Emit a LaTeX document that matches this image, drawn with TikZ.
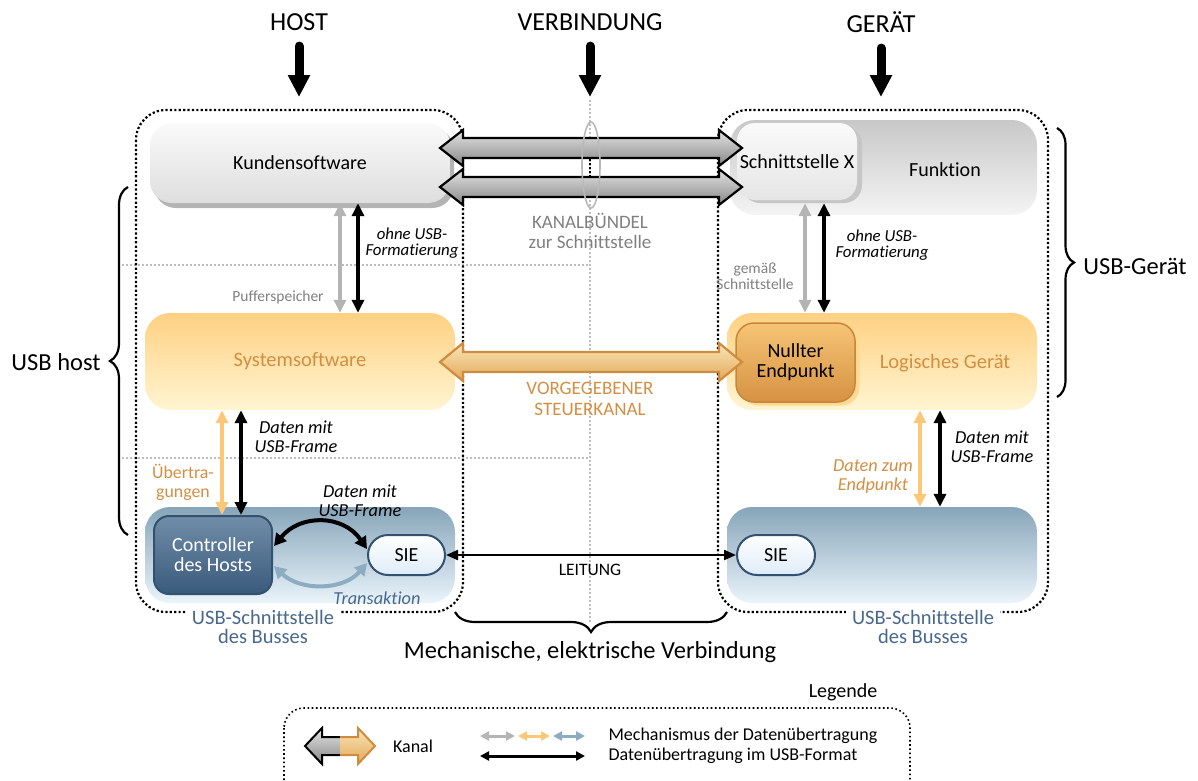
\documentclass[tikz,border=0pt]{standalone}
\usepackage{fontspec}
\setmainfont{Carlito}[Ligatures=NoCommon]
\usetikzlibrary{arrows.meta,calc,decorations.pathreplacing}

\definecolor{txtorange}{RGB}{212,142,66}
\definecolor{txtblue}{RGB}{72,104,140}
\definecolor{txtgray}{RGB}{128,128,128}
\definecolor{guidegray}{RGB}{190,190,190}
\definecolor{arrgray}{RGB}{180,180,180}
\definecolor{arrorange}{RGB}{252,200,120}
\definecolor{arrblue}{RGB}{140,172,192}
\definecolor{ksTop}{RGB}{250,250,250}
\definecolor{ksBot}{RGB}{222,222,222}
\definecolor{ksShadow}{RGB}{180,180,180}
\definecolor{fnTop}{RGB}{200,200,200}
\definecolor{fnBot}{RGB}{244,244,244}
\definecolor{sysTop}{RGB}{255,208,130}
\definecolor{sysBot}{RGB}{255,245,210}
\definecolor{busTop}{RGB}{135,165,185}
\definecolor{busBot}{RGB}{234,244,251}
\definecolor{ctrlTop}{RGB}{112,142,168}
\definecolor{ctrlBot}{RGB}{58,90,124}
\definecolor{ctrlLine}{RGB}{52,82,112}
\definecolor{sieBot}{RGB}{222,236,248}
\definecolor{neTop}{RGB}{246,196,118}
\definecolor{neBot}{RGB}{214,146,66}
\definecolor{neLine}{RGB}{200,134,58}
\definecolor{neShadow}{RGB}{255,216,145}
\definecolor{chTop}{RGB}{228,228,228}
\definecolor{chBot}{RGB}{135,135,135}
\definecolor{stTop}{RGB}{250,230,185}
\definecolor{stBot}{RGB}{226,168,88}
\definecolor{stLine}{RGB}{208,140,62}

% block arrow with two heads: left tip, right tip, centre y, half shaft, half head, style
\newcommand\kanalpfeil[6]{%
  \path[#6] (#1,#3) -- (#1+23,#3-#5) -- (#1+23,#3-#4) -- (#2-23,#3-#4)
    -- (#2-23,#3-#5) -- (#2,#3) -- (#2-23,#3+#5) -- (#2-23,#3+#4)
    -- (#1+23,#3+#4) -- (#1+23,#3+#5) -- cycle;}

\begin{document}
\begin{tikzpicture}[x=1pt,y=-1pt,
  box/.style={rounded corners=#1, inner sep=0pt, align=center},
  hdr/.style={font=\fontsize{26}{29}\selectfont},
  big/.style={font=\fontsize{24.5}{27}\selectfont},
  lbl/.style={font=\fontsize{20}{20}\selectfont, align=center},
  lblbig/.style={font=\fontsize{20.5}{22}\selectfont, align=center},
  sml/.style={font=\fontsize{15.5}{16}\selectfont, align=center},
  itl/.style={font=\fontsize{16.8}{16}\selectfont\itshape, align=center},
  itlbig/.style={font=\fontsize{18.3}{19}\selectfont\itshape, align=center},
  caps/.style={font=\fontsize{19}{19.5}\selectfont, align=center},
  hostline/.style={line width=2.2pt, dash pattern=on 2.2pt off 2.2pt},
  legline/.style={line width=1.6pt, dash pattern=on 1.6pt off 2.6pt},
  guide/.style={draw=guidegray, line width=1.4pt, dash pattern=on 2pt off 2pt},
  datarrow/.style={line width=3.5pt, {Triangle[width=12pt,length=13pt]}-{Triangle[width=12pt,length=13pt]}},
  curv/.style={line width=4pt, {Triangle[width=13pt,length=12pt]}-{Triangle[width=13pt,length=12pt]}},
  leit/.style={line width=2.2pt, {Triangle[width=10pt,length=12pt]}-{Triangle[width=10pt,length=12pt]}},
  legarr/.style={line width=3pt, {Triangle[width=9pt,length=9pt]}-{Triangle[width=9pt,length=9pt]}},
  headarrow/.style={line width=9pt, line cap=round, -{Triangle[width=21pt,length=22pt]}},
  brace/.style={decorate, decoration={brace, amplitude=#1}, line width=2.2pt},
  grayarrow/.style={top color=chTop, bottom color=chBot, draw=black, line width=2.2pt, line join=miter},
  ctrlarrow/.style={top color=stTop, bottom color=stBot, draw=stLine, line width=2.2pt, line join=miter},
  legtext/.style={font=\fontsize{18}{19}\selectfont},
]
\useasboundingbox (0,0) rectangle (1198,780);

% light guide lines
\draw[guide] (118,265) -- (590,265);
\draw[guide] (118,458) -- (590,458);
\draw[guide] (590,100) -- (590,622);

% host and device frames
\draw[hostline, rounded corners=30pt] (136,110) rectangle (463,612);
\draw[hostline, rounded corners=30pt] (718,110) rectangle (1048,612);

% column headers
\node[hdr] (host) at (299,22) {HOST};
\node[hdr] (verb) at (590,22) {VERBINDUNG};
\node[hdr] (geraet) at (881,22) {GERÄT};
\coordinate (hostEnd) at (299,97);
\coordinate (verbEnd) at (590,97);
\coordinate (geraetEnd) at (881,97);
\draw[headarrow] (host.south) ++(0,12) -- (hostEnd);
\draw[headarrow] (verb.south) ++(0,12) -- (verbEnd);
\draw[headarrow] (geraet.south) ++(0,12) -- (geraetEnd);

% host layers
\node[box=22pt, minimum width=300pt, minimum height=80pt, fill=ksShadow] (kssh) at (304,168) {};
\node[box=22pt, minimum width=300pt, minimum height=80pt, top color=ksTop, bottom color=ksBot, lbl] (ks) at (300,163) {Kundensoftware};
\node[box=25pt, minimum width=310pt, minimum height=97pt, top color=sysTop, bottom color=sysBot, lblbig, text=txtorange] (sys) at (300,361.5) {Systemsoftware};
\node[box=25pt, minimum width=310pt, minimum height=96pt, top color=busTop, bottom color=busBot] (hbus) at (300,555) {};
\node[box=15pt, minimum width=118pt, minimum height=78pt, top color=ctrlTop, bottom color=ctrlBot, draw=ctrlLine, line width=2pt, text=white, lbl] (ctrl) at (213,555) {Controller\\des Hosts};
\node[box=20pt, minimum width=77pt, minimum height=40pt, top color=white, bottom color=sieBot, draw=ctrlLine, line width=2pt, lbl] (hsie) at (406.5,555) {SIE};

% device layers
\node[box=25pt, minimum width=307pt, minimum height=95pt, top color=fnTop, bottom color=fnBot] (fn) at (883.5,167.5) {};
\node[lbl] (fnlbl) at (945,170) {Funktion};
\node[box=18pt, minimum width=120pt, minimum height=77pt, fill=gray!45] (sxsh) at (802,164.5) {};
\node[box=18pt, minimum width=120pt, minimum height=77pt, top color=gray!4, bottom color=gray!20, lbl] (sx) at (797,161.5) {Schnittstelle X};
\node[box=25pt, minimum width=310pt, minimum height=97pt, top color=sysTop, bottom color=sysBot] (lg) at (882,361.5) {};
\node[lblbig, text=txtorange] (lglbl) at (945,363) {Logisches Gerät};
\node[box=18pt, minimum width=119pt, minimum height=79pt, fill=neShadow] (nesh) at (800,366) {};
\node[box=18pt, minimum width=119pt, minimum height=79pt, top color=neTop, bottom color=neBot, draw=neLine, line width=1.5pt, lbl] (ne) at (795.5,362.5) {Nullter\\Endpunkt};
\node[box=25pt, minimum width=310pt, minimum height=96pt, top color=busTop, bottom color=busBot] (dbus) at (882,555) {};
\node[box=20pt, minimum width=78pt, minimum height=40pt, top color=white, bottom color=sieBot, draw=ctrlLine, line width=2pt, lbl] (dsie) at (776,555) {SIE};

% interface channel bundle
\kanalpfeil{440}{742}{148}{10}{18}{grayarrow}
\kanalpfeil{440}{742}{187}{10}{18}{grayarrow}
\draw[line width=2pt, dash pattern=on 2pt off 2pt] (590,159) -- (590,177);
\draw[gray!55, line width=1.6pt] (591,165) ellipse [x radius=9pt, y radius=43pt];
\node[caps, text=txtgray] (bundle) at (590,231) {KANALBÜNDEL\\zur Schnittstelle};

% default control pipe
\kanalpfeil{440}{742}{362}{10}{19}{ctrlarrow}
\node[caps, text=txtorange, font=\fontsize{19}{21.5}\selectfont] (steuer) at (590,399) {VORGEGEBENER\\STEUERKANAL};

% vertical data paths
\coordinate (ha) at (340,0); \coordinate (hb) at (358,0);
\coordinate (hc) at (222,0); \coordinate (hd) at (241,0);
\coordinate (da) at (805,0); \coordinate (db) at (824,0);
\coordinate (dc) at (920,0); \coordinate (dd) at (940,0);
\draw[datarrow, arrgray] (ks.south -| ha) -- (sys.north -| ha);
\draw[datarrow, black] (ks.south -| hb) -- (sys.north -| hb);
\draw[datarrow, arrorange] (sys.south -| hc) -- (ctrl.north -| hc);
\draw[datarrow, black] (sys.south -| hd) -- (ctrl.north -| hd);
\draw[datarrow, arrgray] (sxsh.south -| da) -- (lg.north -| da);
\draw[datarrow, black] (sxsh.south -| db) -- (lg.north -| db);
\draw[datarrow, arrorange] (lg.south -| dc) -- (dbus.north -| dc);
\draw[datarrow, black] (lg.south -| dd) -- (dbus.north -| dd);

% controller <-> SIE
\draw[curv, black] ($(ctrl.east)+(1,-9)$) .. controls (300,514) and (343,514) .. ($(hsie.west)+(0,-6)$);
\draw[curv, arrblue] ($(ctrl.east)+(1,11)$) .. controls (300,591) and (343,591) .. ($(hsie.west)+(0,8)$);

% cable
\draw[leit] (hsie.east) -- (dsie.west);
\node[font=\fontsize{17.5}{18}\selectfont] (leitung) at (590,570) {LEITUNG};

% labels
\node[sml, text=txtgray] (puffer) at (278,297) {Pufferspeicher};
\node[itl] (ohne1) at (412,243) {ohne USB-\\Formatierung};
\node[itlbig] (frame1) at (296,437) {Daten mit\\USB-Frame};
\node[itlbig, text=txtorange, font=\fontsize{17.8}{19}\selectfont] (uebertr) at (183,482) {Übertra-\\gungen};
\node[itlbig] (frame2) at (360,501) {Daten mit\\USB-Frame};
\node[itlbig, text=txtblue] (trans) at (377,598) {Transaktion};
\node[lbl, font=\fontsize{20.5}{19}\selectfont, fill=white, inner xsep=6pt, inner ysep=1pt] (hbuslbl) at (263,627) {\color{txtblue}USB-Schnittstelle\\\color{txtblue}des Busses};
\node[itl] (ohne2) at (882,245) {ohne USB-\\Formatierung};
\node[sml, font=\fontsize{15.5}{16}\selectfont] (gemaess) at (755,276) {\color{txtgray}gemäß\\\color{txtgray}Schnittstelle};
\node[itlbig] (frame3) at (992,447) {Daten mit\\USB-Frame};
\node[itlbig, text=txtorange] (zumep) at (873,477) {Daten zum\\Endpunkt};
\node[lbl, font=\fontsize{20.5}{19}\selectfont, fill=white, inner xsep=6pt, inner ysep=1pt] (dbuslbl) at (923,627) {\color{txtblue}USB-Schnittstelle\\\color{txtblue}des Busses};

% braces
\draw[brace=18pt] (128,535) -- (128,187);
\node[big] (usbhost) at (56,362) {USB host};
\draw[brace=17pt] (1057,128) -- (1057,397);
\node[big] (usbgeraet) at (1135,266) {USB-Gerät};
\draw[brace=20pt] (727,612) -- (455,612);
\node[big] (mech) at (590,652) {Mechanische, elektrische Verbindung};

% key
\node[lbl] (legende) at (843,692) {Legende};
\draw[legline, rounded corners=20pt] (284,708) rectangle (910,800);
\draw[top color=chTop, bottom color=chBot, draw=black, line width=2pt, line join=miter]
  (340,737) -- (322,737) -- (322,728) -- (305,746) -- (322,764) -- (322,755) -- (340,755);
\draw[top color=stTop, bottom color=stBot, draw=stLine, line width=2pt, line join=miter]
  (340,737) -- (358,737) -- (358,728) -- (375,746) -- (358,764) -- (358,755) -- (340,755);
\node[legtext] (kanal) at (413,746) {Kanal};
\draw[legarr, arrgray] (480,736) -- (515,736);
\draw[legarr, arrorange] (518,736) -- (550,736);
\draw[legarr, arrblue] (553,736) -- (585,736);
\draw[legarr, black] (480,756) -- (585,756);
\node[legtext, anchor=west] (mech1) at (605,736) {Mechanismus der Datenübertragung};
\node[legtext, anchor=west] (mech2) at (605,756) {Datenübertragung im USB-Format};
\end{tikzpicture}
\end{document}
